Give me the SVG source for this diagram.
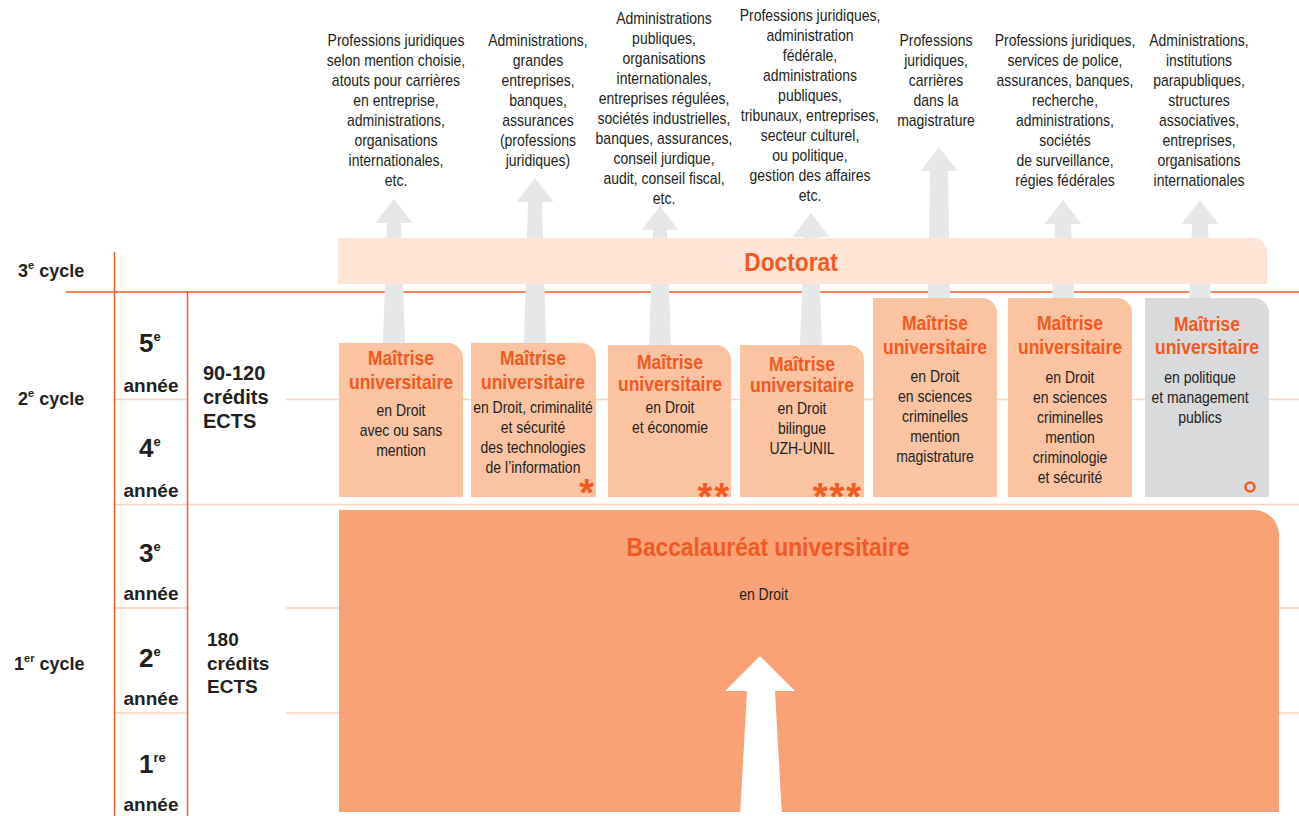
<svg xmlns="http://www.w3.org/2000/svg" width="1299" height="816" viewBox="0 0 1299 816">
<style>
.t{font-family:"Liberation Sans",Arial,sans-serif;font-size:16px;fill:#231f20;text-anchor:middle}
.h{font-family:"Liberation Sans",Arial,sans-serif;font-size:20px;font-weight:bold;fill:#f15a24;text-anchor:middle}
.l{font-family:"Liberation Sans",Arial,sans-serif;font-weight:bold;fill:#231f20}
.ln{stroke:#f15a29;stroke-width:1.5;fill:none}
.lp{stroke:#fcd3bc;stroke-width:1.5;fill:none}
.ga{fill:#e6e7e8}
.mb{fill:#fbc3a0}
.st{font-family:"Liberation Sans","DejaVu Sans",sans-serif;font-size:38px;font-weight:bold;fill:#f15a24;text-anchor:end;letter-spacing:2px}
</style>
<rect width="1299" height="816" fill="#fff"/>
<g id="grid">
<line class="lp" x1="114" y1="399.5" x2="187" y2="399.5"/>
<line class="lp" x1="286" y1="399.5" x2="1299" y2="399.5"/>
<line class="lp" x1="114" y1="504.5" x2="1299" y2="504.5"/>
<line class="lp" x1="114" y1="608" x2="187" y2="608"/>
<line class="lp" x1="286" y1="608" x2="1299" y2="608"/>
<line class="lp" x1="114" y1="713" x2="187" y2="713"/>
<line class="lp" x1="286" y1="713" x2="1299" y2="713"/>
<line class="ln" x1="114.5" y1="252" x2="114.5" y2="816"/>
<line class="ln" x1="66" y1="292" x2="1299" y2="292"/>
<line class="ln" x1="187.5" y1="291" x2="187.5" y2="816"/>
</g>
<g id="connectors">
<path class="ga" d="M394,199 L412.5,223 L401,223 L405,343 L383,343 L387,223 L375.5,223 Z"/>
<path class="ga" d="M535,178 L553.5,202 L542,202 L546,343 L524,343 L528,202 L516.5,202 Z"/>
<path class="ga" d="M660,206 L678.5,230 L667,230 L671,345 L649,345 L653,230 L641.5,230 Z"/>
<path class="ga" d="M811,213 L829.5,237 L818,237 L822,345 L800,345 L804,237 L792.5,237 Z"/>
<path class="ga" d="M939,147 L957.5,171 L948,171 L950,298 L928,298 L930,171 L920.5,171 Z"/>
<path class="ga" d="M1063,200 L1081.5,224 L1071,224 L1074,298 L1052,298 L1055,224 L1044.5,224 Z"/>
<path class="ga" d="M1200,200 L1218.5,224 L1208,224 L1211,298 L1189,298 L1192,224 L1181.5,224 Z"/>
</g>
<g id="doctorat">
<path d="M338,238 H1252 A15,15 0 0 1 1267,253 V284 H338 Z" fill="#fde4d5"/>
<g transform="translate(791 0) scale(0.875 1)"><text class="h" x="0" y="271" style="font-size:26px">Doctorat</text></g>
</g>
<g id="left-labels">
<text class="l" x="18" y="277" font-size="18">3<tspan font-size="11" dy="-8">e</tspan><tspan dy="8"> cycle</tspan></text>
<text class="l" x="18" y="405" font-size="18">2<tspan font-size="11" dy="-8">e</tspan><tspan dy="8"> cycle</tspan></text>
<text class="l" x="14" y="670" font-size="18">1<tspan font-size="11" dy="-8">er</tspan><tspan dy="8"> cycle</tspan></text>
<text class="l" x="139" y="352" font-size="26">5<tspan font-size="13" dy="-11">e</tspan></text>
<text class="l" x="151" y="392" font-size="19" text-anchor="middle">année</text>
<text class="l" x="139" y="457" font-size="26">4<tspan font-size="13" dy="-11">e</tspan></text>
<text class="l" x="151" y="497" font-size="19" text-anchor="middle">année</text>
<text class="l" x="139" y="562" font-size="26">3<tspan font-size="13" dy="-11">e</tspan></text>
<text class="l" x="151" y="600" font-size="19" text-anchor="middle">année</text>
<text class="l" x="139" y="667" font-size="26">2<tspan font-size="13" dy="-11">e</tspan></text>
<text class="l" x="151" y="705" font-size="19" text-anchor="middle">année</text>
<text class="l" x="139" y="773" font-size="26">1<tspan font-size="13" dy="-11">re</tspan></text>
<text class="l" x="151" y="811" font-size="19" text-anchor="middle">année</text>
<text class="l" x="203" y="380" font-size="20">90-120</text>
<text class="l" x="203" y="404" font-size="20">crédits</text>
<text class="l" x="203" y="428" font-size="20">ECTS</text>
<text class="l" x="207" y="646" font-size="19">180</text>
<text class="l" x="207" y="670" font-size="19">crédits</text>
<text class="l" x="207" y="693" font-size="19">ECTS</text>
</g>
<g id="debouches">
<g transform="translate(396 0) scale(0.875 1)"><text class="t"><tspan x="0" y="46">Professions juridiques</tspan><tspan x="0" y="66">selon mention choisie,</tspan><tspan x="0" y="86">atouts pour carrières</tspan><tspan x="0" y="106">en entreprise,</tspan><tspan x="0" y="126">administrations,</tspan><tspan x="0" y="146">organisations</tspan><tspan x="0" y="166">internationales,</tspan><tspan x="0" y="186">etc.</tspan></text></g>
<g transform="translate(538 0) scale(0.875 1)"><text class="t"><tspan x="0" y="46">Administrations,</tspan><tspan x="0" y="66">grandes</tspan><tspan x="0" y="86">entreprises,</tspan><tspan x="0" y="106">banques,</tspan><tspan x="0" y="126">assurances</tspan><tspan x="0" y="146">(professions</tspan><tspan x="0" y="166">juridiques)</tspan></text></g>
<g transform="translate(664 0) scale(0.875 1)"><text class="t"><tspan x="0" y="24">Administrations</tspan><tspan x="0" y="44">publiques,</tspan><tspan x="0" y="64">organisations</tspan><tspan x="0" y="84">internationales,</tspan><tspan x="0" y="104">entreprises régulées,</tspan><tspan x="0" y="124">sociétés industrielles,</tspan><tspan x="0" y="144">banques, assurances,</tspan><tspan x="0" y="164">conseil jurdique,</tspan><tspan x="0" y="184">audit, conseil fiscal,</tspan><tspan x="0" y="204">etc.</tspan></text></g>
<g transform="translate(810 0) scale(0.875 1)"><text class="t"><tspan x="0" y="21">Professions juridiques,</tspan><tspan x="0" y="41">administration</tspan><tspan x="0" y="61">fédérale,</tspan><tspan x="0" y="81">administrations</tspan><tspan x="0" y="101">publiques,</tspan><tspan x="0" y="121">tribunaux, entreprises,</tspan><tspan x="0" y="141">secteur culturel,</tspan><tspan x="0" y="161">ou politique,</tspan><tspan x="0" y="181">gestion des affaires</tspan><tspan x="0" y="201">etc.</tspan></text></g>
<g transform="translate(936 0) scale(0.875 1)"><text class="t"><tspan x="0" y="46">Professions</tspan><tspan x="0" y="66">juridiques,</tspan><tspan x="0" y="86">carrières</tspan><tspan x="0" y="106">dans la</tspan><tspan x="0" y="126">magistrature</tspan></text></g>
<g transform="translate(1065 0) scale(0.875 1)"><text class="t"><tspan x="0" y="46">Professions juridiques,</tspan><tspan x="0" y="66">services de police,</tspan><tspan x="0" y="86">assurances, banques,</tspan><tspan x="0" y="106">recherche,</tspan><tspan x="0" y="126">administrations,</tspan><tspan x="0" y="146">sociétés</tspan><tspan x="0" y="166">de surveillance,</tspan><tspan x="0" y="186">régies fédérales</tspan></text></g>
<g transform="translate(1199 0) scale(0.875 1)"><text class="t"><tspan x="0" y="46">Administrations,</tspan><tspan x="0" y="66">institutions</tspan><tspan x="0" y="86">parapubliques,</tspan><tspan x="0" y="106">structures</tspan><tspan x="0" y="126">associatives,</tspan><tspan x="0" y="146">entreprises,</tspan><tspan x="0" y="166">organisations</tspan><tspan x="0" y="186">internationales</tspan></text></g>
</g>
<g id="master1">
<path class="mb" d="M339,343 H448 A15,15 0 0 1 463,358 V497 H339 Z"/>
<g transform="translate(401 0) scale(0.875 1)"><text class="h"><tspan x="0" y="365">Maîtrise</tspan><tspan x="0" y="389">universitaire</tspan></text>
<text class="t"><tspan x="0" y="416">en Droit</tspan><tspan x="0" y="436">avec ou sans</tspan><tspan x="0" y="456">mention</tspan></text></g>
</g>
<g id="master2">
<path class="mb" d="M471,343 H581 A15,15 0 0 1 596,358 V497 H471 Z"/>
<g transform="translate(533 0) scale(0.875 1)"><text class="h"><tspan x="0" y="365">Maîtrise</tspan><tspan x="0" y="389">universitaire</tspan></text>
<text class="t"><tspan x="0" y="413">en Droit, criminalité</tspan><tspan x="0" y="433">et sécurité</tspan><tspan x="0" y="453">des technologies</tspan><tspan x="0" y="473">de l’information</tspan></text></g>
<text class="st" x="596" y="506">*</text>
</g>
<g id="master3">
<path class="mb" d="M608,345 H716 A15,15 0 0 1 731,360 V497 H608 Z"/>
<g transform="translate(670 0) scale(0.875 1)"><text class="h"><tspan x="0" y="369">Maîtrise</tspan><tspan x="0" y="391">universitaire</tspan></text>
<text class="t"><tspan x="0" y="413">en Droit</tspan><tspan x="0" y="433">et économie</tspan></text></g>
<text class="st" x="731" y="510">**</text>
</g>
<g id="master4">
<path class="mb" d="M740,345 H849 A15,15 0 0 1 864,360 V497 H740 Z"/>
<g transform="translate(802 0) scale(0.875 1)"><text class="h"><tspan x="0" y="371">Maîtrise</tspan><tspan x="0" y="392">universitaire</tspan></text>
<text class="t"><tspan x="0" y="414">en Droit</tspan><tspan x="0" y="434">bilingue</tspan><tspan x="0" y="454">UZH-UNIL</tspan></text></g>
<text class="st" x="863" y="510">***</text>
</g>
<g id="master5">
<path class="mb" d="M873,298 H982 A15,15 0 0 1 997,313 V497 H873 Z"/>
<g transform="translate(935 0) scale(0.875 1)"><text class="h"><tspan x="0" y="330">Maîtrise</tspan><tspan x="0" y="354">universitaire</tspan></text>
<text class="t"><tspan x="0" y="382">en Droit</tspan><tspan x="0" y="402">en sciences</tspan><tspan x="0" y="422">criminelles</tspan><tspan x="0" y="442">mention</tspan><tspan x="0" y="462">magistrature</tspan></text></g>
</g>
<g id="master6">
<path class="mb" d="M1008,298 H1117 A15,15 0 0 1 1132,313 V497 H1008 Z"/>
<g transform="translate(1070 0) scale(0.875 1)"><text class="h"><tspan x="0" y="330">Maîtrise</tspan><tspan x="0" y="354">universitaire</tspan></text>
<text class="t"><tspan x="0" y="383">en Droit</tspan><tspan x="0" y="403">en sciences</tspan><tspan x="0" y="423">criminelles</tspan><tspan x="0" y="443">mention</tspan><tspan x="0" y="463">criminologie</tspan><tspan x="0" y="483">et sécurité</tspan></text></g>
</g>
<g id="master7">
<path d="M1145,298 H1254 A15,15 0 0 1 1269,313 V497 H1145 Z" fill="#d9dadb"/>
<g transform="translate(1207 0) scale(0.875 1)"><text class="h"><tspan x="0" y="331">Maîtrise</tspan><tspan x="0" y="354">universitaire</tspan></text></g>
<g transform="translate(1200 0) scale(0.875 1)"><text class="t"><tspan x="0" y="383">en politique</tspan><tspan x="0" y="403">et management</tspan><tspan x="0" y="423">publics</tspan></text></g>
<circle cx="1250" cy="487" r="4.5" fill="none" stroke="#f15a24" stroke-width="2.5"/>
</g>
<g id="baccalaureat">
<path d="M339,510 H1254 A25,25 0 0 1 1279,535 V812 H339 Z" fill="#f8a276"/>
<g transform="translate(768 0) scale(0.875 1)"><text class="h" x="0" y="556" style="font-size:26px">Baccalauréat universitaire</text>
<text class="t" x="-5" y="600">en Droit</text></g>
<path d="M760,656 L795,691 L775,691 L782,816 L740,816 L747,691 L725,691 Z" fill="#fff"/>
</g>
</svg>
